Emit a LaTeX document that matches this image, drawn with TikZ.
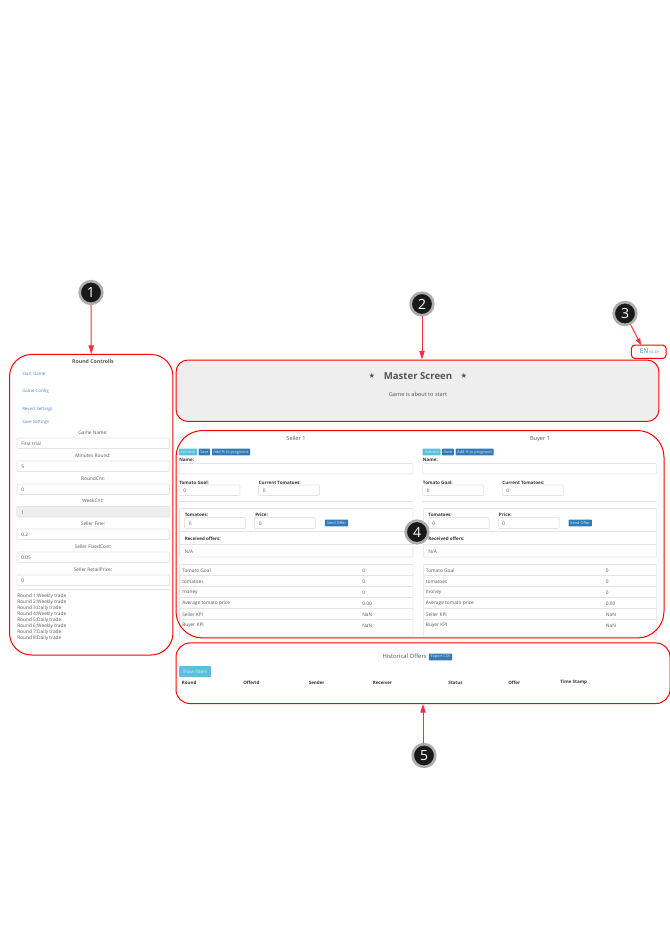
\documentclass[tikz,border=0pt]{standalone}
\usepackage{fontspec}
\setmainfont{Open Sans}
\newfontfamily\symfont{DejaVu Sans}
\usetikzlibrary{arrows.meta}
\definecolor{markred}{HTML}{FF0000}
\definecolor{arrowred}{HTML}{F5303C}
\definecolor{linkblue}{HTML}{4A86C0}
\definecolor{btnblue}{HTML}{337AB7}
\definecolor{btninfo}{HTML}{5BC0DE}
\definecolor{txtgray}{HTML}{555555}
\definecolor{linegray}{HTML}{E4E4E4}
\definecolor{panelgray}{HTML}{EEEEEE}
\begin{document}
\begin{tikzpicture}[x=0.75pt, y=-0.75pt, line cap=round]
  \tikzset{
    panel/.style={draw=markred, line width=0.75pt, inner sep=0pt},
    badge/.style={circle, fill=black!90, draw=black!32, line width=2pt, minimum size=17pt, inner sep=0pt, text=white, font=\fontsize{10.5}{12}\selectfont},
    callout/.style={draw=arrowred, line width=0.7pt, -{Triangle[length=6.5pt,width=4pt]}},
    txt/.style={inner sep=0pt, yshift=-0.5pt, text=txtgray, font=\fontsize{3.6}{4.3}\selectfont},
    lefttxt/.style={txt, anchor=west},
    linktxt/.style={lefttxt, text=linkblue, font=\fontsize{3.3}{4}\selectfont},
    boldtxt/.style={lefttxt, text=black!80, font=\fontsize{3.4}{4}\selectfont\bfseries},
    btn/.style={fill=btnblue, rounded corners=0.5pt, inner sep=0pt, minimum height=5.2pt, text=white!85!btnblue, font=\fontsize{2.9}{3.4}\selectfont},
    inputbox/.style={draw=linegray, fill=white, line width=0.5pt, rounded corners=0.8pt},
    rule/.style={draw=linegray, line width=0.4pt}
  }
  \useasboundingbox (0,0) rectangle (670,947);
  % panelen
  \node[panel, rounded corners=16.5pt, minimum width=122.6pt, minimum height=225.4pt] (controls) at (91.25,504.75) {};
  \node[panel, fill=panelgray, rounded corners=9pt, minimum width=362.2pt, minimum height=46.1pt] (master) at (417.5,390.75) {};
  \node[panel, rounded corners=2.5pt, minimum width=25.9pt, minimum height=10.1pt] (lang) at (648.75,351.75) {};
  \node[panel, rounded corners=10.5pt, minimum width=370.5pt, minimum height=45.4pt] (history) at (423,673.25) {};
  % linker kolom
  \node[txt, font=\fontsize{3.9}{4.5}\selectfont\bfseries] (controlsTitle) at (93,361) {Round Controlls};
  \foreach \ypos/\name/\label in {373/start/Start Game, 391/config/Game Config, 409/revert/Revert Settings, 421.5/save/Save Settings}
    \node[linktxt] (\name) at (22,\ypos) {\label};
  \foreach \ypos/\name/\label/\val in {432/gamename/Game Name:/First trial, 455/minutes/Minutes Round:/5, 478/roundcnt/RoundCnt:/0, 500.5/weekcnt/WeekCnt:/1, 523/fine/Seller Fine:/0.2, 546/fixed/Seller FixedCost:/0.05, 569/retail/Seller RetailPrice:/0} {
    \node[txt] (\name) at (93,\ypos) {\label};
    \draw[inputbox] (17,\ypos+6) rectangle (169.5,\ypos+16.5);
    \node[lefttxt] (\name Val) at (21,\ypos+11.5) {\val};
  }
  \draw[inputbox, fill=panelgray] (17,506.5) rectangle (169.5,517);
  \node[lefttxt] (weekcntTop) at (21,512) {1};
  \draw[rule] (17,589) -- (169.5,589);
  \foreach \i/\ypos/\kind in {1/595.5/Weekly, 2/601.5/Weekly, 3/607.5/Daily, 4/613.5/Weekly, 5/619.5/Daily, 6/625.5/Weekly, 7/631.5/Daily, 8/637.5/Daily}
    \node[lefttxt] (round\i) at (17,\ypos) {Round \i:\kind{} trade};
  % meester
  \node[txt, font=\fontsize{7.2}{8}\selectfont\bfseries] (masterTitle) at (418,375) {Master Screen};
  \node[txt, font=\fontsize{5.5}{7}\symfont] (starL) at (372,375) {★};
  \node[txt, font=\fontsize{5.5}{7}\symfont] (starR) at (464,375) {★};
  \node[txt, font=\fontsize{4.2}{5}\selectfont] (masterSub) at (418,393.5) {Game is about to start};
  % taal
  \node[lefttxt, text=linkblue, font=\fontsize{5}{6}\selectfont] (langEN) at (639.5,350.5) {EN};
  \node[lefttxt, text=linkblue, font=\fontsize{2.6}{3}\selectfont] (langRest) at (649,351.5) {NL ZH};
  % spelers
  \foreach \dx/\side/\who/\cx in {0/seller/Seller 1/296, 243.7/buyer/Buyer 1/540} {
    \node[txt, font=\fontsize{4.2}{5}\selectfont] (\side Title) at (\cx,438) {\who};
    \node[btn, fill=btninfo, minimum width=13.5pt] (\side Activate) at (\dx+188,452) {Activate};
    \node[btn, minimum width=8.7pt] (\side Save) at (\dx+204.3,452) {Save};
    \node[btn, minimum width=28.5pt] (\side Add) at (\dx+231,452) {Add \% to prognosis};
    \node[boldtxt] (\side Name) at (\dx+179,459.5) {Name:};
    \draw[inputbox] (\dx+179,463.5) rectangle (\dx+413,474);
    \node[boldtxt] (\side Goal) at (\dx+179,482) {Tomato Goal:};
    \draw[inputbox] (\dx+179,485) rectangle (\dx+240,495.5);
    \node[lefttxt] (\side GoalVal) at (\dx+183,490.5) {0};
    \node[boldtxt] (\side Cur) at (\dx+258.5,482) {Current Tomatoes:};
    \draw[inputbox] (\dx+258.5,485) rectangle (\dx+319.5,495.5);
    \node[lefttxt] (\side CurVal) at (\dx+262.5,490.5) {0};
    \draw[rule] (\dx+179,501.5) -- (\dx+413,501.5);
    % aanbod
    \draw[inputbox] (\dx+179.5,508.5) rectangle (\dx+413,557);
    \node[boldtxt] (\side Tom) at (\dx+184.5,514.5) {Tomatoes:};
    \draw[inputbox] (\dx+184.5,517.5) rectangle (\dx+245.5,528.5);
    \node[lefttxt] (\side TomVal) at (\dx+188.5,523) {0};
    \node[boldtxt] (\side Price) at (\dx+255,514.5) {Price:};
    \draw[inputbox] (\dx+254.5,517.5) rectangle (\dx+315.5,528.5);
    \node[lefttxt] (\side PriceVal) at (\dx+258.5,523) {0};
    \node[btn, minimum width=17.5pt] (\side Send) at (\dx+336.5,523) {Send Offer};
    \draw[rule] (\dx+179.5,531.5) -- (\dx+413,531.5);
    \node[boldtxt] (\side Recv) at (\dx+184.5,538) {Received offers:};
    \draw[rule] (\dx+179.5,544.5) -- (\dx+413,544.5);
    \node[lefttxt] (\side NA) at (\dx+184.5,551) {N/A};
    % tabel
    \draw[inputbox] (\dx+179.5,564.5) rectangle (\dx+413,637);
    \foreach \ypos in {575.4,586.4,597.4,608.4,619.4}
      \draw[rule] (\dx+179.5,\ypos) -- (\dx+413,\ypos);
    \foreach \ypos/\rname/\label/\val in {570/goal/Tomato Goal/0, 581/tom/tomatoes/0, 592/money/money/0, 603/avg/Average tomato price/0.00, 614/skpi/Seller KPI/NaN, 625/bkpi/Buyer KPI/NaN} {
      \node[lefttxt] (\side\rname) at (\dx+182,\ypos) {\label};
      \node[lefttxt] (\side\rname Val) at (\dx+362,\ypos) {\val};
    }
  }
  % rand om de spelers, boven de tabellen
  \node[panel, rounded corners=20pt, minimum width=366pt, minimum height=155.6pt] (players) at (420,534.25) {};
  % historie
  \node[txt, anchor=east, font=\fontsize{4.4}{5}\selectfont] (histTitle) at (427,656) {Historical Offers};
  \node[btn, minimum width=17.5pt] (histExport) at (440.5,657) {Export CSV};
  \node[btn, fill=btninfo, minimum width=24pt, minimum height=8pt, font=\fontsize{3.4}{4}\selectfont] (histFilter) at (195,671.5) {Show filters};
  \foreach \xpos/\name/\label in {181.5/hround/Round, 243/hoffer/OfferId, 308.5/hsender/Sender, 372.5/hrecv/Receiver, 448/hstatus/Status, 508/hofr/Offer, 560/hstamp/Time Stamp}
    \node[boldtxt] (\name) at (\xpos,682) {\label};
  % nummers en pijlen
  \node[badge] (badgeA) at (91,292.5) {1};
  \node[badge] (badgeB) at (422,304) {2};
  \node[badge] (badgeC) at (625,313.5) {3};
  \node[badge] (badgeD) at (417,532) {4};
  \node[badge] (badgeE) at (424,755.5) {5};
  \coordinate (langTip) at (641,345);
  \draw[callout] (badgeA) -- (controls.north);
  \draw[callout] (badgeB) -- (badgeB |- master.north);
  \draw[callout, -{Triangle[length=5pt,width=3.5pt]}] (badgeC) -- (langTip);
  \draw[callout] (history.south |- badgeE.north) -- (history.south);
\end{tikzpicture}
\end{document}
